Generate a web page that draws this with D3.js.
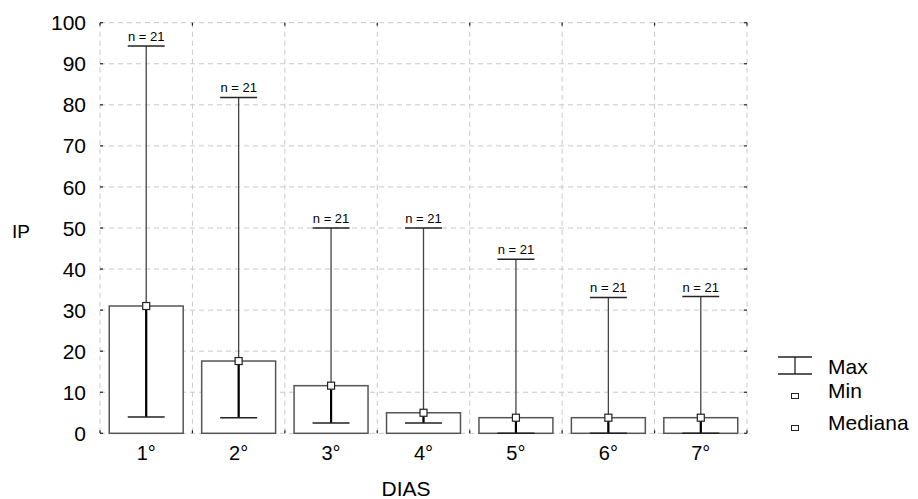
<!DOCTYPE html>
<html>
<head>
<meta charset="utf-8">
<script src="https://cdn.jsdelivr.net/npm/d3@7"></script>
<style>
  body { margin: 0; background: #fff; }
  svg { font-family: 'Liberation Sans', Arial, sans-serif; }
</style>
</head>
<body>
<div id="viz"></div>
<script>
// data
const categories = ['1°', '2°', '3°', '4°', '5°', '6°', '7°'];
const medians = [31, 17.6, 11.6, 5.0, 3.8, 3.8, 3.8];
const mins = [4.0, 3.8, 2.5, 2.5, 0, 0, 0];
const maxs = [94.3, 81.8, 50, 50, 42.4, 33.1, 33.3];
const counts = [21, 21, 21, 21, 21, 21, 21];
const yTicks = [0, 10, 20, 30, 40, 50, 60, 70, 80, 90, 100];
const legendItems = ['Max', 'Min', 'Mediana'];

const width = 918, height = 499;
const margin = { top: 22.7, right: 171, bottom: 65.7, left: 100 };

const svg = d3.select('#viz').append('svg')
  .attr('width', width)
  .attr('height', height);

const x = d3.scaleBand()
  .domain(categories)
  .range([margin.left, width - margin.right])
  .paddingInner(0.2)
  .paddingOuter(0.1);

const y = d3.scaleLinear()
  .domain([0, 100])
  .range([height - margin.bottom, margin.top]);

const data = categories.map((c, i) => ({
  cat: c, med: medians[i], min: mins[i], max: maxs[i], n: counts[i]
}));

const plotL = margin.left, plotR = width - margin.right;
const plotT = margin.top, plotB = height - margin.bottom;
const step = x.step();
const bounds = d3.range(categories.length + 1).map(i => plotL + i * step);

// dashed grid (also forms the frame)
const grid = svg.append('g').attr('stroke', '#c8c8c8').attr('stroke-dasharray', '5,4');
grid.selectAll('.hg').data(yTicks).enter().append('line')
  .attr('x1', plotL).attr('x2', plotR)
  .attr('y1', d => y(d)).attr('y2', d => y(d));
grid.selectAll('.vg').data(bounds).enter().append('line')
  .attr('x1', d => d).attr('x2', d => d)
  .attr('y1', plotT).attr('y2', plotB);

// little inward ticks on all sides
const ticks = svg.append('g').attr('stroke', '#222').attr('stroke-width', 1.2);
yTicks.forEach(t => {
  ticks.append('line').attr('x1', plotL).attr('x2', plotL + 3).attr('y1', y(t)).attr('y2', y(t));
  ticks.append('line').attr('x1', plotR - 3).attr('x2', plotR).attr('y1', y(t)).attr('y2', y(t));
});
bounds.forEach(b => {
  ticks.append('line').attr('x1', b).attr('x2', b).attr('y1', plotT).attr('y2', plotT + 3);
  ticks.append('line').attr('x1', b).attr('x2', b).attr('y1', plotB - 3).attr('y2', plotB);
});

// y tick labels
svg.append('g').selectAll('text').data(yTicks).enter().append('text')
  .attr('x', 86)
  .attr('y', d => y(d))
  .attr('dy', '0.36em')
  .attr('text-anchor', 'end')
  .style('font-size', '21px')
  .text(d => d);

// x tick labels
svg.append('g').selectAll('text').data(categories).enter().append('text')
  .attr('x', d => x(d) + x.bandwidth() / 2)
  .attr('y', 460)
  .attr('text-anchor', 'middle')
  .style('font-size', '20px')
  .text(d => d);

// axis titles
svg.append('text').attr('x', 406).attr('y', 496).attr('text-anchor', 'middle')
  .style('font-size', '21px').text('DIAS');
svg.append('text').attr('x', 12).attr('y', 238)
  .style('font-size', '19px').text('IP');

// bars (median)
const g = svg.append('g');
g.selectAll('.bar').data(data).enter().append('rect')
  .attr('x', d => x(d.cat))
  .attr('y', d => y(d.med))
  .attr('width', x.bandwidth())
  .attr('height', d => y(0) - y(d.med))
  .attr('fill', '#fff')
  .attr('stroke', '#555')
  .attr('stroke-width', 1.5);

const cx = d => x(d.cat) + x.bandwidth() / 2;
const capW = x.bandwidth() * 0.5;

// whisker min -> max
g.selectAll('.wh').data(data).enter().append('line')
  .attr('x1', cx).attr('x2', cx)
  .attr('y1', d => y(d.min)).attr('y2', d => y(d.max))
  .attr('stroke', '#444').attr('stroke-width', 1.3);
// heavier part inside the bar
g.selectAll('.wi').data(data).enter().append('line')
  .attr('x1', cx).attr('x2', cx)
  .attr('y1', d => y(d.min)).attr('y2', d => y(d.med))
  .attr('stroke', '#000').attr('stroke-width', 2.2);

// caps
g.selectAll('.capmax').data(data).enter().append('line')
  .attr('x1', d => cx(d) - capW / 2).attr('x2', d => cx(d) + capW / 2)
  .attr('y1', d => y(d.max)).attr('y2', d => y(d.max))
  .attr('stroke', '#222').attr('stroke-width', 1.5);
g.selectAll('.capmin').data(data).enter().append('line')
  .attr('x1', d => cx(d) - capW / 2).attr('x2', d => cx(d) + capW / 2)
  .attr('y1', d => y(d.min)).attr('y2', d => y(d.min))
  .attr('stroke', '#222').attr('stroke-width', 1.5);

// median markers
g.selectAll('.mk').data(data).enter().append('rect')
  .attr('x', d => cx(d) - 3.5)
  .attr('y', d => y(d.med) - 3.5)
  .attr('width', 7).attr('height', 7)
  .attr('fill', '#fff').attr('stroke', '#222').attr('stroke-width', 1.2);

// n labels
g.selectAll('.nl').data(data).enter().append('text')
  .attr('x', cx)
  .attr('y', d => y(d.max) - 5)
  .attr('text-anchor', 'middle')
  .style('font-size', '13px')
  .text(d => 'n = ' + d.n);

// legend
const legend = svg.append('g').attr('class', 'legend');
const lx = 795;
legend.append('line').attr('x1', lx - 17).attr('x2', lx + 17).attr('y1', 357).attr('y2', 357)
  .attr('stroke', '#222').attr('stroke-width', 1.3);
legend.append('line').attr('x1', lx - 17).attr('x2', lx + 17).attr('y1', 374).attr('y2', 374)
  .attr('stroke', '#222').attr('stroke-width', 1.3);
legend.append('line').attr('x1', lx).attr('x2', lx).attr('y1', 357).attr('y2', 374)
  .attr('stroke', '#222').attr('stroke-width', 1.3);
[396, 428].forEach(yy => {
  legend.append('rect').attr('x', lx - 3.5).attr('y', yy - 2.5).attr('width', 7).attr('height', 5)
    .attr('fill', '#fff').attr('stroke', '#222').attr('stroke-width', 1);
});
legend.selectAll('text').data(legendItems).enter().append('text')
  .attr('x', 828)
  .attr('y', (d, i) => [374, 398, 430][i])
  .style('font-size', '21px')
  .text(d => d);
</script>
</body>
</html>
